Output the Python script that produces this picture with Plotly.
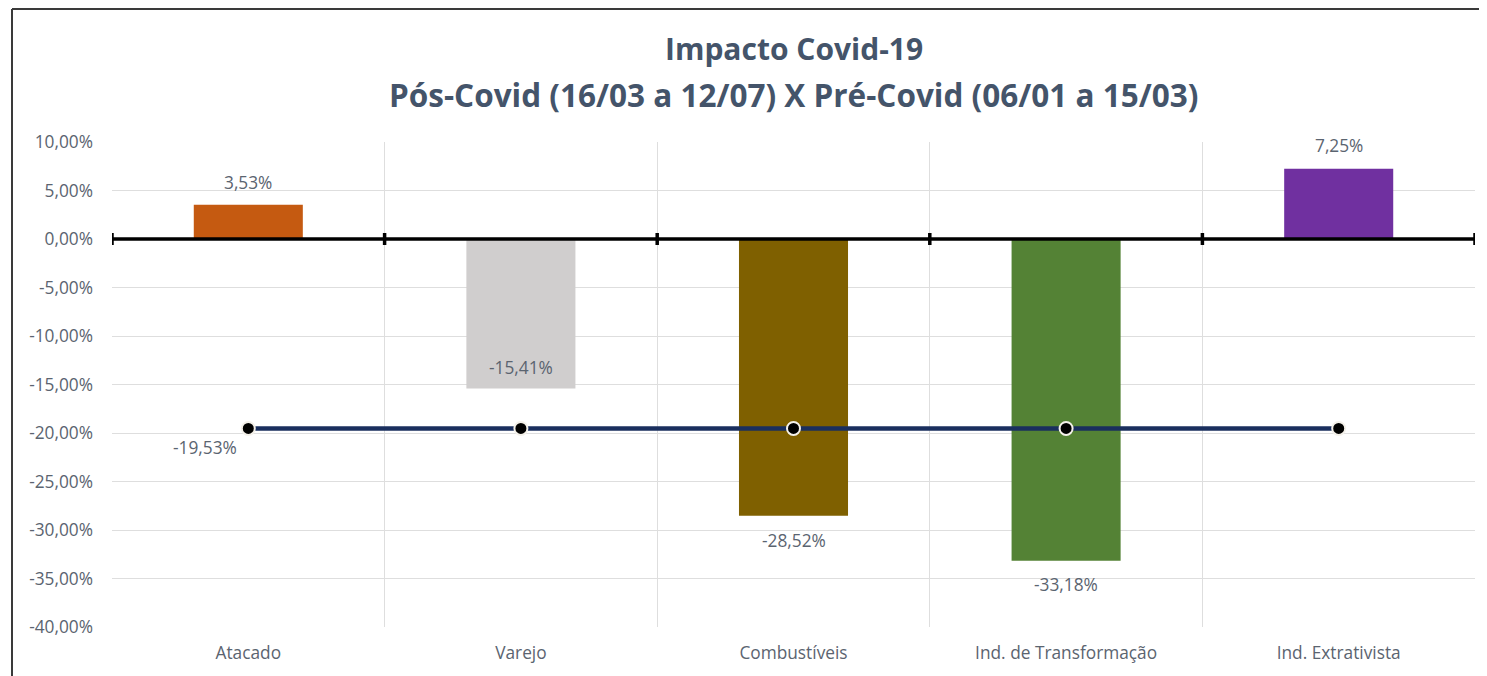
import plotly.graph_objects as go

categories = ["Atacado", "Varejo", "Combustíveis", "Ind. de Transformação", "Ind. Extrativista"]
impacto = [3.53, -15.41, -28.52, -33.18, 7.25]
media = [-19.53, -19.53, -19.53, -19.53, -19.53]
bar_colors = ["#C55A11", "#D0CECE", "#7F6000", "#548235", "#7030A0"]
y_ticks = [10, 5, 0, -5, -10, -15, -20, -25, -30, -35, -40]
title_line1 = "Impacto Covid-19"
title_line2 = "Pós-Covid (16/03 a 12/07) X Pré-Covid (06/01 a 15/03)"

FONT = "Open Sans"
LABEL_COLOR = "#5B6470"
FS = 17.3


def fmt(v):
    return f"{v:.2f}".replace(".", ",") + "%"


# page body has an 8px margin: the figure is sized to fit the window without scrollbars
OFF = 8
W, H = 1487 - OFF, 676 - OFF
L, T = 112 - OFF, 142 - OFF
R = 1487 - 1475
B = 676 - 627
PH = 627 - 142
PW = 1475 - 112

fig = go.Figure()
fig.add_trace(go.Bar(
    x=categories, y=impacto, marker=dict(color=bar_colors, line=dict(width=0)),
    width=0.4, hoverinfo="x+y", showlegend=False,
))
fig.add_trace(go.Scatter(
    x=categories, y=media, mode="lines+markers",
    line=dict(color="#1A2F5E", width=4.5),
    marker=dict(color="black", size=13, line=dict(color="#F4F1EA", width=2)),
    showlegend=False,
))

# zero axis line with tick marks at category boundaries
fig.add_shape(type="line", xref="paper", yref="y", x0=0, x1=1, y0=0, y1=0,
              line=dict(color="black", width=3.5), layer="above")
for i in range(len(categories) + 1):
    fig.add_shape(type="line", xref="x", yref="y", ysizemode="pixel", yanchor=0,
                  x0=i - 0.5, x1=i - 0.5, y0=-6, y1=6,
                  line=dict(color="black", width=3.5), layer="above")

# data labels
label_shift = [22, 21, -25, -24, 23]
for c, v, s in zip(categories, impacto, label_shift):
    fig.add_annotation(x=c, y=v, text=fmt(v), showarrow=False, yshift=s,
                       font=dict(family=FONT, size=FS, color=LABEL_COLOR))
fig.add_annotation(x=categories[0], y=media[0], text=fmt(media[0]), showarrow=False,
                   xshift=-43, yshift=-19,
                   font=dict(family=FONT, size=FS, color=LABEL_COLOR))

# title
fig.add_annotation(xref="paper", yref="paper", x=0.5, y=(627 - 48) / PH, yanchor="middle",
                   text=f"<b>{title_line1}</b>", showarrow=False,
                   font=dict(family=FONT, size=30, color="#44546A"))
fig.add_annotation(xref="paper", yref="paper", x=0.5, y=(627 - 95) / PH, yanchor="middle",
                   text=f"<b>{title_line2}</b>", showarrow=False,
                   font=dict(family=FONT, size=31.5, color="#44546A"))

# chart frame (top and left edges; right and bottom fall outside the picture)
fx0 = (12 - 112) / PW
fy1 = (627 - 9) / PH
fig.add_shape(type="line", xref="paper", yref="paper", x0=fx0, x1=1.05, y0=fy1, y1=fy1,
              line=dict(color="#3A3A3A", width=2), layer="above")
fig.add_shape(type="line", xref="paper", yref="paper", x0=fx0, x1=fx0, y0=-0.25, y1=fy1,
              line=dict(color="#3A3A3A", width=2), layer="above")

fig.update_layout(
    width=W, height=H,
    margin=dict(l=L, r=R, t=T, b=B),
    paper_bgcolor="white", plot_bgcolor="white",
    font=dict(family=FONT, size=FS, color=LABEL_COLOR),
    bargap=0.6,
)
fig.update_xaxes(type="category", tickson="boundaries", showgrid=True, gridcolor="#DEDEDE",
                 gridwidth=1, ticks="", showline=False, zeroline=False,
                 tickfont=dict(family=FONT, size=FS, color=LABEL_COLOR),
                 ticklabelstandoff=14, range=[-0.5, 4.5])
fig.update_yaxes(range=[-40, 10], tickvals=y_ticks, ticktext=[fmt(v) for v in y_ticks],
                 showgrid=True, gridcolor="#DEDEDE", gridwidth=1, zeroline=False,
                 showline=False, ticks="",
                 tickfont=dict(family=FONT, size=FS, color=LABEL_COLOR),
                 ticklabelstandoff=18)

fig.write_html("out.html")
